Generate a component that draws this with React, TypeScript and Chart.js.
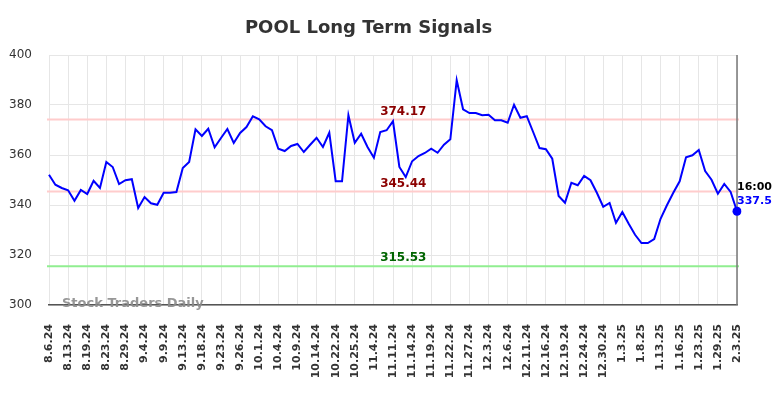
import React, { useEffect, useRef } from "react";
import { Chart, registerables } from "chart.js";

Chart.register(...registerables);

const title = "POOL Long Term Signals";
const watermark = "Stock Traders Daily";

const dates = [
  "8.6.24", "8.7.24", "8.9.24",
  "8.13.24", "8.15.24", "8.16.24",
  "8.19.24", "8.21.24", "8.22.24",
  "8.23.24", "8.27.24", "8.28.24",
  "8.29.24", "8.30.24", "9.3.24",
  "9.4.24", "9.5.24", "9.6.24",
  "9.9.24", "9.11.24", "9.12.24",
  "9.13.24", "9.16.24", "9.17.24",
  "9.18.24", "9.19.24", "9.20.24",
  "9.23.24", "9.24.24", "9.25.24",
  "9.26.24", "9.27.24", "9.30.24",
  "10.1.24", "10.2.24", "10.3.24",
  "10.4.24", "10.7.24", "10.8.24",
  "10.9.24", "10.10.24", "10.11.24",
  "10.14.24", "10.16.24", "10.18.24",
  "10.22.24", "10.23.24", "10.24.24",
  "10.25.24", "10.29.24", "10.31.24",
  "11.4.24", "11.6.24", "11.8.24",
  "11.11.24", "11.12.24", "11.13.24",
  "11.14.24", "11.15.24", "11.18.24",
  "11.19.24", "11.20.24", "11.21.24",
  "11.22.24", "11.25.24", "11.26.24",
  "11.27.24", "11.29.24", "12.2.24",
  "12.3.24", "12.4.24", "12.5.24",
  "12.6.24", "12.9.24", "12.10.24",
  "12.11.24", "12.12.24", "12.13.24",
  "12.16.24", "12.17.24", "12.18.24",
  "12.19.24", "12.20.24", "12.23.24",
  "12.24.24", "12.26.24", "12.27.24",
  "12.30.24", "12.31.24", "1.2.25",
  "1.3.25", "1.6.25", "1.7.25",
  "1.8.25", "1.9.25", "1.10.25",
  "1.13.25", "1.14.25", "1.15.25",
  "1.16.25", "1.17.25", "1.21.25",
  "1.23.25", "1.24.25", "1.27.25",
  "1.29.25", "1.30.25", "1.31.25",
  "2.3.25",
];

const prices = [
  352.1, 348.1, 346.8, 345.9, 341.7, 346.0, 344.4, 349.7, 346.8, 357.2,
  355.2, 348.4, 349.9, 350.3, 338.8, 343.2, 340.7, 340.1, 344.9, 344.9,
  345.2, 354.8, 357.2, 370.3, 367.6, 370.5, 363.1, 366.8, 370.4, 364.8,
  368.8, 371.2, 375.5, 374.3, 371.5, 369.9, 362.5, 361.6, 363.6, 364.4,
  361.2, 364.1, 366.9, 363.2, 368.9, 349.5, 349.5, 375.9, 364.9, 368.5,
  363.2, 358.9, 369.2, 369.9, 373.5, 355.2, 351.2, 357.5, 359.6, 360.8,
  362.5, 360.9, 364.1, 366.3, 389.9, 378.3, 376.8, 376.8, 375.9, 376.1,
  373.9, 373.9, 372.9, 380.1, 374.9, 375.5, 369.2, 362.8, 362.3, 358.5,
  343.6, 340.9, 348.9, 347.9, 351.6, 349.9, 344.9, 339.3, 340.8, 332.9,
  337.2, 332.5, 328.1, 324.8, 324.8, 326.4, 334.5, 339.9, 344.9, 349.5,
  359.1, 359.9, 362.0, 353.6, 350.1, 344.5, 348.4, 345.2, 337.5,
];

const labelStep = 3;
const yMin = 300;
const yMax = 400;
const yStep = 20;

const signalValues = [374.17, 345.44, 315.53];
const signalLabels = ["374.17", "345.44", "315.53"];
const signalLineColors = ["#ffcccc", "#ffcccc", "#90ee90"];
const signalTextColors = ["#8b0000", "#8b0000", "#006400"];

const lastTime = "16:00";
const lastLabel = "337.5";

const FONT = '"DejaVu Sans", sans-serif';

const overlayPlugin = {
  id: "overlay",
  beforeDatasetsDraw(chart: any) {
    const { ctx, chartArea: a, scales } = chart;
    const y = scales.y;
    ctx.save();
    signalValues.forEach((v, i) => {
      const py = y.getPixelForValue(v);
      ctx.strokeStyle = signalLineColors[i];
      ctx.lineWidth = 2;
      ctx.beginPath();
      ctx.moveTo(a.left - 2, py);
      ctx.lineTo(a.right + 2, py);
      ctx.stroke();
    });
    ctx.font = `bold 13px ${FONT}`;
    ctx.fillStyle = "rgba(140,140,140,0.9)";
    ctx.textAlign = "left";
    ctx.textBaseline = "middle";
    ctx.fillText(watermark, a.left + 13, a.bottom - 1);
    ctx.strokeStyle = "#777";
    ctx.lineWidth = 1.5;
    ctx.beginPath();
    ctx.moveTo(a.right, a.top);
    ctx.lineTo(a.right, a.bottom);
    ctx.stroke();
    ctx.restore();
  },
  afterDatasetsDraw(chart: any) {
    const { ctx, chartArea: a, scales } = chart;
    const y = scales.y;
    ctx.save();
    ctx.font = `bold 12px ${FONT}`;
    ctx.textAlign = "center";
    ctx.textBaseline = "middle";
    const cx = a.left + (a.right - a.left) * 0.515;
    signalValues.forEach((v, i) => {
      const py = y.getPixelForValue(v);
      ctx.fillStyle = signalTextColors[i];
      ctx.fillText(signalLabels[i], cx, py - 8);
    });
    const meta = chart.getDatasetMeta(0);
    const pt = meta.data[meta.data.length - 1];
    ctx.font = `bold 11px ${FONT}`;
    ctx.textAlign = "left";
    ctx.fillStyle = "#000";
    ctx.fillText(lastTime, pt.x, pt.y - 24);
    ctx.fillStyle = "#0000ff";
    ctx.fillText(lastLabel, pt.x, pt.y - 10);
    ctx.restore();
  },
};

export default function App() {
  const ref = useRef<HTMLCanvasElement | null>(null);

  useEffect(() => {
    const canvas = ref.current;
    if (!canvas) return;
    const last = prices.length - 1;
    const chart = new Chart(canvas, {
      type: "line",
      data: {
        labels: dates,
        datasets: [
          {
            data: prices,
            borderColor: "#0000ff",
            borderWidth: 2,
            backgroundColor: "#0000ff",
            pointBackgroundColor: "#0000ff",
            pointBorderWidth: 0,
            pointRadius: (c: any) => (c.dataIndex === last ? 4.5 : 0),
            pointHoverRadius: 0,
            tension: 0,
            fill: false,
          },
        ],
      },
      options: {
        responsive: false,
        animation: false,
        devicePixelRatio: 1,
        layout: { padding: { left: 0, right: 47, top: 0, bottom: 0 } },
        plugins: {
          legend: { display: false },
          tooltip: { enabled: false },
          title: {
            display: true,
            text: title,
            color: "#333",
            font: { family: FONT, size: 18, weight: "bold" },
            padding: { top: 18, bottom: 15.4 },
          },
        },
        scales: {
          x: {
            type: "category",
            offset: false,
            grid: { color: "#e6e6e6", drawTicks: false, lineWidth: 1 },
            border: { display: true, color: "#555", width: 1.5 },
            ticks: {
              autoSkip: false,
              maxRotation: 90,
              minRotation: 90,
              padding: 19,
              color: "#333",
              font: { family: FONT, size: 11, weight: "bold" },
            },
            afterBuildTicks: (s: any) => {
              s.ticks = s.ticks.filter((t: any) => t.value % labelStep === 0);
            },
            afterFit: (s: any) => {
              s.height = 93;
            },
          },
          y: {
            min: yMin,
            max: yMax,
            grid: { color: "#e6e6e6", drawTicks: false, lineWidth: 1 },
            border: { display: false },
            ticks: {
              stepSize: yStep,
              padding: 17,
              color: "#333",
              font: { family: FONT, size: 12 },
            },
            afterFit: (s: any) => {
              s.width = 49;
            },
          },
        },
      } as any,
      plugins: [overlayPlugin],
    });
    return () => chart.destroy();
  }, []);

  return (
    <div style={{ position: "fixed", left: 0, top: 0, width: 784, height: 398 }}>
      <canvas ref={ref} width={784} height={398} style={{ width: 784, height: 398 }} />
    </div>
  );
}
